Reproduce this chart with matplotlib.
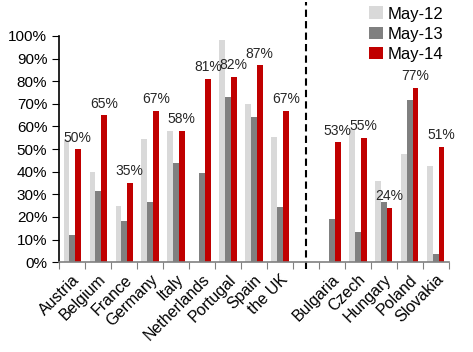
import matplotlib
matplotlib.use('Agg')
import matplotlib.pyplot as plt
import numpy as np

# categories (blank slot separates the two groups)
countries = ['Austria', 'Belgium', 'France', 'Germany', 'Italy', 'Netherlands',
             'Portugal', 'Spain', 'the UK', '',
             'Bulgaria', 'Czech', 'Hungary', 'Poland', 'Slovakia']
may12 = [54, 40, 25, 54.5, 58, 0, 98, 70, 55.5, 0, 0, 59, 36, 48, 42.5]
may13 = [12, 31.5, 18, 26.5, 44, 39.5, 73, 64, 24.5, 0, 19, 13.5, 26.5, 71.5, 3.5]
may14 = [50, 65, 35, 67, 58, 81, 82, 87, 67, 0, 53, 55, 24, 77, 51]
labels14 = ['50%', '65%', '35%', '67%', '58%', '81%', '82%', '87%', '67%', '',
            '53%', '55%', '24%', '77%', '51%']

plt.rcParams['font.family'] = ['Liberation Sans', 'DejaVu Sans']

fig = plt.figure(figsize=(4.73, 3.52), dpi=100)
ax = fig.add_axes([0.125, 0.255, 0.824, 0.643])

x = np.arange(len(countries))
w = 0.22
ax.bar(x - w, np.array(may12) / 100, w, color='#D9D9D9', label='May-12')
ax.bar(x, np.array(may13) / 100, w, color='#808080', label='May-13')
ax.bar(x + w, np.array(may14) / 100, w, color='#C00000', label='May-14')

for xi, v, t in zip(x, may14, labels14):
    if t:
        ax.text(xi + w, v / 100 + 0.02, t, ha='center', va='bottom',
                fontsize=10, color='#262626')

ax.set_xlim(-0.5, len(countries) - 0.5)
ax.set_ylim(0, 1.0)
ax.set_yticks(np.arange(0, 1.01, 0.1))
ax.set_yticklabels([f'{int(round(v * 100))}%' for v in np.arange(0, 1.01, 0.1)],
                   fontsize=11)

ax.set_xticks(np.arange(-0.5, len(countries), 1.0))
ax.set_xticklabels([])
ax.set_xticks(x, minor=True)
ax.set_xticklabels(countries, minor=True, rotation=45, ha='right',
                   rotation_mode='anchor', fontsize=11.5)
ax.tick_params(axis='x', which='minor', length=0, pad=7)
ax.tick_params(axis='x', which='major', length=5, color='#808080', direction='out')
ax.tick_params(axis='y', length=5, direction='out', color='black')

for s in ['top', 'right']:
    ax.spines[s].set_visible(False)
ax.spines['bottom'].set_color('#808080')
ax.spines['bottom'].set_linewidth(1.2)
ax.spines['left'].set_color('black')
ax.spines['left'].set_linewidth(1.2)

# separator between the two country groups
trans = ax.get_xaxis_transform()
ax.plot([9, 9], [-0.03, 1.15], transform=trans, color='black',
        linestyle='--', linewidth=1.5, dashes=(3.5, 2), clip_on=False)

ax.legend(loc='upper right', bbox_to_anchor=(1.003, 1.16), frameon=False,
          fontsize=12, handlelength=0.8, handleheight=0.8,
          handletextpad=0.3, labelspacing=0.3, borderaxespad=0.0)

fig.savefig('out.png', dpi=100)
